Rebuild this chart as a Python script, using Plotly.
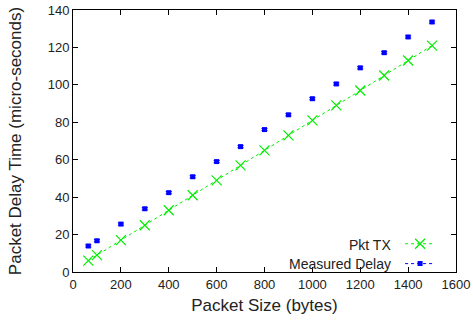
import plotly.graph_objects as go

packet_size = [64, 100, 200, 300, 400, 500, 600, 700, 800, 900, 1000, 1100, 1200, 1300, 1400, 1500]
pkt_tx = [6.1, 9, 17, 25, 33, 41, 49, 57, 65, 73, 81, 89, 97, 105, 113, 121]
measured_delay = [13.9, 16.7, 25.6, 33.8, 42.4, 50.9, 59.0, 67.0, 76.1, 84.0, 92.6, 100.5, 109.1, 117.2, 125.6, 133.6]
measured_err = [0.6] * len(packet_size)

series_names = ["Pkt TX", "Measured Delay"]
x_ticks = list(range(0, 1601, 200))
y_ticks = list(range(0, 141, 20))

GREEN = "#00ee00"
BLUE = "#0000ff"
FONT = "Liberation Sans, Arial, sans-serif"

fig = go.Figure()

fig.add_trace(go.Scatter(
    x=packet_size, y=pkt_tx, mode="lines+markers", name=" ",
    line=dict(color=GREEN, width=1, dash="dot"),
    marker=dict(symbol="x-thin", size=10, line=dict(color=GREEN, width=1.2)),
    showlegend=True,
))
fig.add_trace(go.Scatter(
    x=packet_size, y=measured_delay, mode="markers", name=" ",
    marker=dict(symbol="square", size=5, color=BLUE),
    error_y=dict(type="data", array=measured_err, color=BLUE, thickness=1, width=3),
    showlegend=False,
))
# legend sample for measured delay (no data drawn)
fig.add_trace(go.Scatter(
    x=[None], y=[None], mode="lines+markers", name=" ",
    line=dict(color=BLUE, width=1, dash="dot"),
    marker=dict(symbol="square", size=5, color=BLUE),
    showlegend=True,
))

axis_common = dict(
    showline=True, linecolor="black", linewidth=1, mirror="ticks",
    ticks="inside", ticklen=5, tickcolor="black", showgrid=False, zeroline=False,
    tickfont=dict(family=FONT, size=13, color="#222"), automargin=False,
)

fig.update_layout(
    width=473, height=320,
    margin=dict(l=73, r=17, t=10, b=48),
    plot_bgcolor="white", paper_bgcolor="white",
    font=dict(family=FONT, color="#222"),
    xaxis=dict(range=[0, 1600], tickvals=x_ticks,
               title=dict(text="Packet Size (bytes)", font=dict(family=FONT, size=17), standoff=8),
               **axis_common),
    yaxis=dict(range=[0, 140], tickvals=y_ticks,
               title=dict(text="Packet Delay Time (micro-seconds)", font=dict(family=FONT, size=17), standoff=21),
               **axis_common),
    legend=dict(x=0.854, y=0.165, xanchor="left", yanchor="top", bgcolor="rgba(0,0,0,0)",
                font=dict(family=FONT, size=13), itemwidth=30, tracegroupgap=0),
    annotations=[
        dict(text=series_names[0], xref="paper", yref="paper", x=0.8355, y=0.104, xanchor="right",
             yanchor="middle", showarrow=False, font=dict(family=FONT, size=14, color="#222")),
        dict(text=series_names[1], xref="paper", yref="paper", x=0.8355, y=0.031, xanchor="right",
             yanchor="middle", showarrow=False, font=dict(family=FONT, size=14, color="#222")),
    ],
)

fig.write_html(
    "out.html",
    config={"displayModeBar": False},
    post_script="document.body.style.margin='0';document.body.style.overflow='hidden';",
)
